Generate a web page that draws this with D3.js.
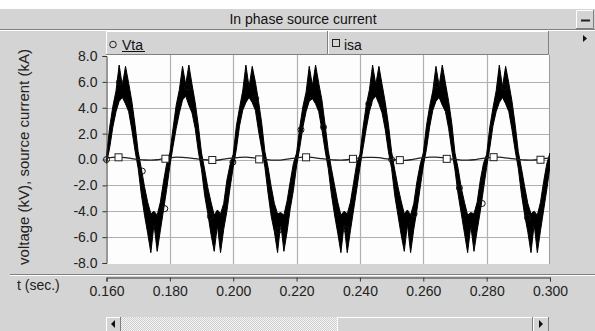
<!DOCTYPE html>
<html>
<head>
<meta charset="utf-8">
<script src="https://cdn.jsdelivr.net/npm/d3@7"></script>
<style>
  body { margin: 0; background: #fff; }
  svg { display: block; font-family: "Liberation Sans", Arial, sans-serif; }
</style>
</head>
<body>
<svg id="chart" width="595" height="331"></svg>
<script>
// sample grid of the traces (seconds)
const tStart = 0.160;
const tStep = 0.001;

// Vta: switching ripple is too dense to resolve, so keep its upper / lower envelope (kV)
const vtaUpper = [
  0.3, 2.5, 4.1, 5.3, 7.3, 5.7, 7.2, 5.9, 4.5, 2.7, 0.6, -0.7, -2.1, -3.3, -4.2, -4.0, -4.3, -3.3, -1.7, -0.3,
  0.5, 2.4, 4.2, 5.4, 7.2, 5.8, 7.3, 5.8, 4.4, 2.6, 0.5, -0.8, -2.2, -3.3, -4.3, -3.9, -4.2, -3.4, -1.6, -0.4,
  0.4, 2.6, 4.0, 5.3, 7.3, 5.6, 7.2, 6.0, 4.5, 2.8, 0.6, -0.6, -2.1, -3.4, -4.2, -4.1, -4.3, -3.2, -1.7, -0.3,
  0.5, 2.5, 4.1, 5.2, 7.2, 5.7, 7.3, 5.9, 4.6, 2.7, 0.7, -0.7, -2.0, -3.3, -4.3, -4.0, -4.2, -3.3, -1.8, -0.3,
  0.4, 2.5, 4.2, 5.4, 7.3, 5.8, 7.2, 5.8, 4.4, 2.7, 0.6, -0.8, -2.1, -3.2, -4.2, -3.9, -4.3, -3.4, -1.7, -0.4,
  0.5, 2.6, 4.1, 5.3, 7.2, 5.7, 7.3, 5.9, 4.5, 2.8, 0.5, -0.7, -2.2, -3.3, -4.3, -4.1, -4.2, -3.3, -1.6, -0.3,
  0.4, 2.5, 4.0, 5.3, 7.3, 5.6, 7.2, 5.9, 4.5, 2.7, 0.6, -0.7, -2.1, -3.4, -4.2, -4.0, -4.3, -3.3, -1.7, -0.3,
  0.5
];
const vtaLower = [
  -0.3, 0.9, 2.5, 3.7, 4.5, 4.8, 4.3, 3.7, 2.3, 0.7, -0.7, -2.7, -4.3, -5.7, -7.2, -5.0, -7.1, -5.5, -3.9, -2.3,
  -0.5, 1.0, 2.4, 3.6, 4.6, 4.9, 4.2, 3.6, 2.4, 0.6, -0.8, -2.8, -4.2, -5.8, -7.1, -5.1, -7.2, -5.4, -4.0, -2.2,
  -0.6, 0.8, 2.6, 3.8, 4.4, 4.8, 4.4, 3.8, 2.2, 0.8, -0.6, -2.6, -4.4, -5.6, -7.2, -4.9, -7.1, -5.6, -3.8, -2.4,
  -0.5, 0.9, 2.5, 3.7, 4.5, 4.7, 4.3, 3.7, 2.3, 0.7, -0.7, -2.7, -4.3, -5.7, -7.2, -5.0, -7.2, -5.5, -3.9, -2.3,
  -0.6, 0.9, 2.4, 3.7, 4.6, 4.9, 4.3, 3.6, 2.3, 0.6, -0.7, -2.8, -4.3, -5.8, -7.1, -5.0, -7.2, -5.4, -3.9, -2.2,
  -0.5, 0.8, 2.5, 3.8, 4.5, 4.8, 4.2, 3.7, 2.4, 0.7, -0.8, -2.7, -4.2, -5.7, -7.2, -5.1, -7.1, -5.5, -4.0, -2.3,
  -0.6, 0.9, 2.6, 3.7, 4.4, 4.8, 4.3, 3.7, 2.3, 0.7, -0.7, -2.7, -4.3, -5.6, -7.2, -5.0, -7.2, -5.5, -3.9, -2.3,
  -0.5
];

// isa source current (kA), sampled every 2 ms
const isaStep = 0.002;
const isa = [
  0.13, 0.17, 0.18, 0.14, 0.07, 0.01, -0.04, -0.05, -0.02, 0.07,
  0.13, 0.18, 0.17, 0.13, 0.06, 0.00, -0.04, -0.06, -0.02, 0.06,
  0.12, 0.17, 0.18, 0.14, 0.07, 0.01, -0.05, -0.05, -0.01, 0.07,
  0.13, 0.18, 0.18, 0.13, 0.06, 0.01, -0.04, -0.05, -0.02, 0.06,
  0.12, 0.17, 0.17, 0.14, 0.07, 0.00, -0.04, -0.06, -0.02, 0.07,
  0.13, 0.18, 0.18, 0.14, 0.06, 0.01, -0.05, -0.05, -0.02, 0.06,
  0.13, 0.17, 0.18, 0.13, 0.07, 0.01, -0.04, -0.05, -0.02, 0.07,
  0.13
];

// marker symbols on the traces
const vtaMarkT = [0.1600, 0.1641, 0.1713, 0.1784, 0.1856, 0.1928, 0.1999, 0.2071, 0.2142, 0.2214,
  0.2285, 0.2357, 0.2428, 0.2500, 0.2571, 0.2643, 0.2714, 0.2786, 0.2857, 0.2929];
const vtaMarkV = [0.0, 6.0, -0.9, -3.8, 5.6, -4.4, -0.2, 4.7, -5.5, 2.3,
  2.5, -5.4, 4.3, 0.0, -4.2, 5.8, -2.2, -3.4, 5.6, -4.5];
const isaMarkT = [0.1638, 0.1786, 0.1934, 0.2082, 0.2230, 0.2378, 0.2526, 0.2674, 0.2822, 0.2970];
const isaMarkV = [0.17, 0.06, -0.04, 0.01, 0.17, 0.05, -0.05, 0.05, 0.18, -0.02];

const xTicks = [0.160, 0.180, 0.200, 0.220, 0.240, 0.260, 0.280, 0.300];
const yTicks = [-8, -6, -4, -2, 0, 2, 4, 6, 8];
const titleText = "In phase source current";
const yLabel = "voltage (kV), source current (kA)";
const xLabel = "t (sec.)";
const legendNames = ["Vta", "isa"];

const W = 595, H = 331;
const gray = "#d4d4d4", dark = "#808080";
const plot = { left: 106, right: 549, top: 55, bottom: 264 };

const svg = d3.select("#chart");

// window background
svg.append("rect").attr("width", W).attr("height", H).attr("fill", gray);
svg.append("rect").attr("width", W).attr("height", 9).attr("fill", "#fff");

// title bar
svg.append("line").attr("x1", 0).attr("x2", W).attr("y1", 29.5).attr("y2", 29.5).attr("stroke", dark);
svg.append("line").attr("x1", 0).attr("x2", W).attr("y1", 30.5).attr("y2", 30.5).attr("stroke", "#fff");
svg.append("text").attr("x", 303).attr("y", 24).attr("text-anchor", "middle")
  .attr("font-size", 14).attr("fill", "#111").text(titleText);

// little 3d box helper (windows style button / cell)
function bevel(x, y, w, h) {
  const g = svg.append("g");
  g.append("rect").attr("x", x).attr("y", y).attr("width", w).attr("height", h).attr("fill", gray);
  g.append("path").attr("d", `M${x + 0.5},${y + h}V${y + 0.5}H${x + w}`).attr("fill", "none").attr("stroke", "#fff");
  g.append("path").attr("d", `M${x},${y + h - 0.5}H${x + w - 0.5}V${y}`).attr("fill", "none").attr("stroke", dark);
  return g;
}

// minimise button
bevel(576, 10, 18, 19);
svg.append("rect").attr("x", 581).attr("y", 19.5).attr("width", 9).attr("height", 2).attr("fill", "#222");

// legend cells
bevel(106, 31, 222, 24);
bevel(328, 31, 221, 24);
svg.append("circle").attr("cx", 113).attr("cy", 44.5).attr("r", 3.3)
  .attr("fill", "none").attr("stroke", "#222");
svg.append("text").attr("x", 122).attr("y", 49.5).attr("font-size", 14).attr("fill", "#111").text(legendNames[0]);
svg.append("line").attr("x1", 122).attr("x2", 145).attr("y1", 51.5).attr("y2", 51.5).attr("stroke", "#111");
svg.append("rect").attr("x", 332.5).attr("y", 39.5).attr("width", 7).attr("height", 7)
  .attr("fill", "none").attr("stroke", "#222");
svg.append("text").attr("x", 344).attr("y", 49.5).attr("font-size", 14).attr("fill", "#111").text(legendNames[1]);
svg.append("path").attr("d", "M583,35L587,38.5L583,42Z").attr("fill", "#111");

// scales
const x = d3.scaleLinear().domain([0.16, 0.30]).range([106.5, 550]);
const y = d3.scaleLinear().domain([-8, 8]).range([263, 56]);

// plot area
svg.append("rect").attr("x", plot.left).attr("y", plot.top)
  .attr("width", plot.right - plot.left).attr("height", plot.bottom - plot.top).attr("fill", "#fdfdfd");

const grid = svg.append("g").attr("stroke", "#b0b0b0").attr("stroke-width", 1.2);
grid.selectAll(".vg").data(xTicks.slice(1, -1)).join("line")
  .attr("x1", d => Math.round(x(d)) + 0.5).attr("x2", d => Math.round(x(d)) + 0.5)
  .attr("y1", plot.top).attr("y2", plot.bottom);
grid.selectAll(".hg").data(yTicks.slice(1, -1)).join("line")
  .attr("y1", d => Math.round(y(d)) + 0.5).attr("y2", d => Math.round(y(d)) + 0.5)
  .attr("x1", plot.left).attr("x2", plot.right);
svg.append("line").attr("x1", 549.5).attr("x2", 549.5).attr("y1", plot.top).attr("y2", plot.bottom)
  .attr("stroke", "#9a9a9a");

// traces
const clip = svg.append("clipPath").attr("id", "clip").append("rect")
  .attr("x", plot.left).attr("y", plot.top).attr("width", plot.right - plot.left + 1)
  .attr("height", plot.bottom - plot.top);
const traces = svg.append("g").attr("clip-path", "url(#clip)");

// vta symbols sit under the ripple band, so most of them vanish in it
svg.append("g").selectAll("circle").data(vtaMarkT).join("circle")
  .attr("cx", d => x(d)).attr("cy", (d, i) => y(vtaMarkV[i])).attr("r", 3)
  .attr("fill", "none").attr("stroke", "#111");

const vtaArea = d3.area()
  .x((d, i) => x(tStart + i * tStep))
  .y0((d, i) => y(vtaLower[i]))
  .y1(d => y(d));
traces.append("path").datum(vtaUpper).attr("d", vtaArea)
  .attr("fill", "#000").attr("stroke", "#000").attr("stroke-width", 1);

const isaLine = d3.line().x((d, i) => x(tStart + i * isaStep)).y(d => y(d)).curve(d3.curveMonotoneX);
traces.append("path").datum(isa).attr("d", isaLine)
  .attr("fill", "none").attr("stroke", "#222").attr("stroke-width", 1.3);

svg.append("g").selectAll("rect").data(isaMarkT).join("rect")
  .attr("x", d => x(d) - 3.5).attr("y", (d, i) => y(isaMarkV[i]) - 3.5)
  .attr("width", 7).attr("height", 7)
  .attr("fill", "#fff").attr("stroke", "#222");

// y axis
const yAxis = svg.append("g").attr("transform", "translate(106.5,0)")
  .call(d3.axisLeft(y).tickValues(yTicks).tickSize(4).tickPadding(5).tickFormat(d => d.toFixed(1)));
yAxis.selectAll("text").attr("font-size", 14).attr("font-family", "Liberation Sans, Arial").attr("fill", "#222");
yAxis.selectAll("line, path").attr("stroke", "#333");

svg.append("text").attr("transform", "translate(29,157) rotate(-90)").attr("text-anchor", "middle")
  .attr("font-size", 15).attr("fill", "#222").text(yLabel);

// separator below plot
svg.append("line").attr("x1", 10).attr("x2", W).attr("y1", 274.5).attr("y2", 274.5).attr("stroke", dark);
svg.append("line").attr("x1", 10).attr("x2", W).attr("y1", 275.5).attr("y2", 275.5).attr("stroke", "#fff");

// x axis
const xAxis = svg.append("g").attr("transform", "translate(0,277.5)")
  .call(d3.axisBottom(x).tickValues(xTicks).tickSize(4).tickPadding(5).tickFormat(d => d.toFixed(3)));
xAxis.selectAll("text").attr("font-size", 14).attr("font-family", "Liberation Sans, Arial").attr("fill", "#222");
xAxis.selectAll("line, path").attr("stroke", "#333");
svg.append("text").attr("x", 17).attr("y", 290).attr("font-size", 14).attr("fill", "#222").text(xLabel);

// scroll bar
const defs = svg.append("defs");
const pat = defs.append("pattern").attr("id", "dots").attr("width", 2).attr("height", 2)
  .attr("patternUnits", "userSpaceOnUse");
pat.append("rect").attr("width", 2).attr("height", 2).attr("fill", "#f4f4f4");
pat.append("rect").attr("width", 1).attr("height", 1).attr("fill", "#cfcfcf");
pat.append("rect").attr("x", 1).attr("y", 1).attr("width", 1).attr("height", 1).attr("fill", "#cfcfcf");
svg.append("rect").attr("x", 121).attr("y", 317).attr("width", 216).attr("height", 14).attr("fill", "url(#dots)");
bevel(337, 317, 196, 15);
bevel(106, 317, 15, 15);
bevel(533, 317, 16, 15);
svg.append("path").attr("d", "M111,324L115,320V328Z").attr("fill", "#111");
svg.append("path").attr("d", "M543,324L539,320V328Z").attr("fill", "#111");
</script>
</body>
</html>
